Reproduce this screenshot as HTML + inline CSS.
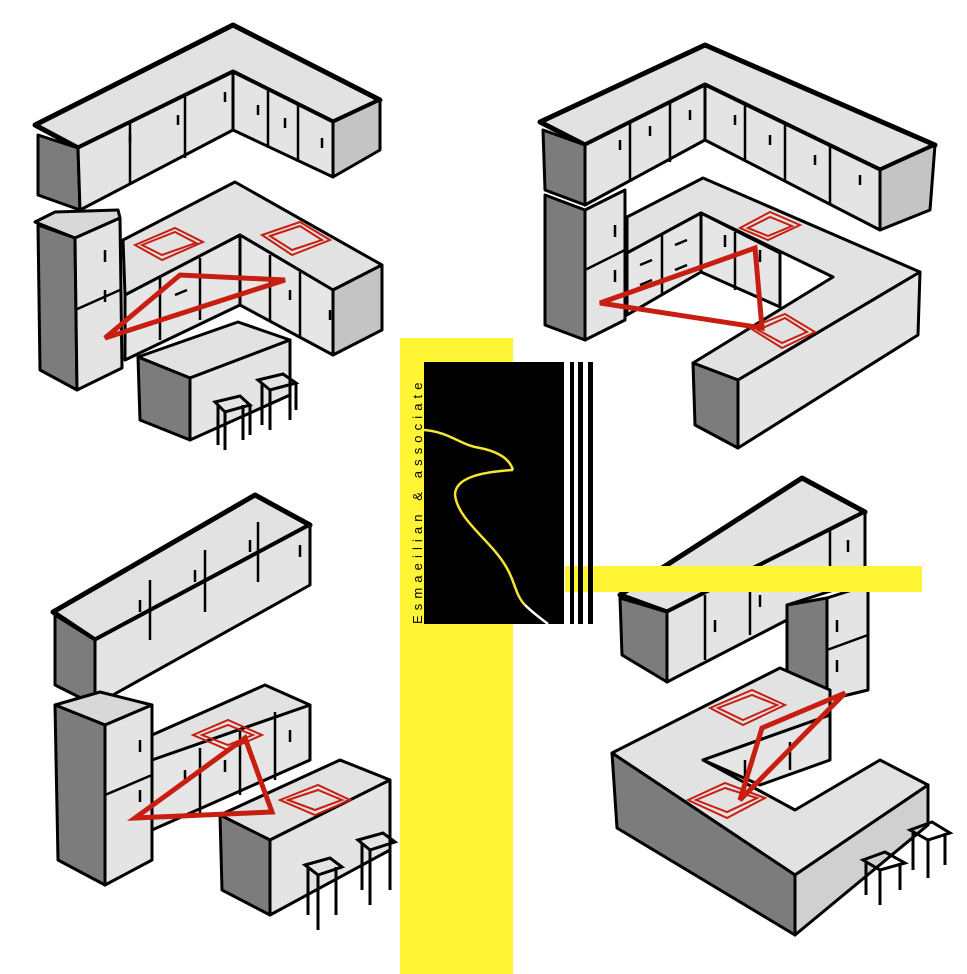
<!DOCTYPE html>
<html><head><meta charset="utf-8"><style>
html,body{margin:0;padding:0;background:#fff;}
svg{display:block}
</style></head><body>
<svg width="967" height="974" viewBox="0 0 967 974" xmlns="http://www.w3.org/2000/svg">
<g stroke="#000" stroke-width="3" stroke-linejoin="round">
<!-- TL upper -->
<polygon points="35,125 233,25 380,100 333,122 233,72 78,148" fill="#e2e2e2" stroke-width="5"/>
<polygon points="38,135 78,148 80,210 38,195" fill="#7c7c7c"/>
<polygon points="78,148 233,72 233,130 80,210" fill="#e4e4e4"/>
<polygon points="233,72 333,122 333,177 233,130" fill="#e4e4e4"/>
<polygon points="333,122 380,100 380,150 333,177" fill="#c4c4c4"/>
<!-- TL fridge -->
<polygon points="35,222 55,212 118,210 120,218 75,238" fill="#d8d8d8"/>
<polygon points="38,225 75,238 77,390 40,370" fill="#7c7c7c"/>
<polygon points="75,238 120,218 122,368 77,390" fill="#e4e4e4"/>
<!-- TL counter -->
<polygon points="123,240 235,182 382,265 333,290 240,235 125,295" fill="#e2e2e2"/>
<polygon points="125,295 240,235 240,305 125,360" fill="#e6e6e6"/>
<polygon points="240,235 333,290 333,355 240,305" fill="#e6e6e6"/>
<polygon points="333,290 382,265 382,330 333,355" fill="#c4c4c4"/>
<!-- TL island -->
<polygon points="138,357 238,322 290,340 190,378" fill="#e2e2e2"/>
<polygon points="138,357 190,378 190,440 140,420" fill="#7c7c7c"/>
<polygon points="190,378 290,340 290,395 190,440" fill="#e4e4e4"/>

<!-- TR upper -->
<polygon points="540,122 705,45 935,145 880,170 705,85 585,145" fill="#e2e2e2" stroke-width="5"/>
<polygon points="543,130 585,145 585,205 545,190" fill="#7c7c7c"/>
<polygon points="585,145 705,85 705,140 585,205" fill="#e4e4e4"/>
<polygon points="705,85 880,170 880,230 705,140" fill="#e4e4e4"/>
<polygon points="880,170 935,145 930,210 880,230" fill="#c4c4c4"/>
<!-- TR counter -->
<polygon points="627,217 703,178 920,272 738,380 693,363 833,277 701,213 627,253" fill="#e2e2e2"/>
<polygon points="627,253 701,213 701,272 627,315" fill="#e6e6e6"/>
<polygon points="701,213 780,253 780,307 701,272" fill="#e6e6e6"/>
<polygon points="693,363 738,380 738,448 695,425" fill="#7c7c7c"/>
<polygon points="738,380 920,272 918,335 738,448" fill="#e4e4e4"/>
<!-- TR fridge -->
<polygon points="545,195 585,210 585,340 545,325" fill="#7c7c7c"/>
<polygon points="585,210 625,190 625,320 585,340" fill="#e4e4e4"/>

<!-- BL upper -->
<polygon points="53,612 255,495 310,525 95,640" fill="#e2e2e2" stroke-width="5"/>
<polygon points="55,615 95,640 95,705 55,685" fill="#7c7c7c"/>
<polygon points="95,640 310,525 310,585 95,705" fill="#e4e4e4"/>
<!-- BL fridge -->
<polygon points="55,705 100,692 152,705 105,725" fill="#d8d8d8"/>
<polygon points="55,705 105,725 105,885 58,860" fill="#7c7c7c"/>
<polygon points="105,725 152,705 152,860 105,885" fill="#e4e4e4"/>
<!-- BL counter -->
<polygon points="152,735 265,685 310,705 200,760 152,760" fill="#e2e2e2"/>
<polygon points="152,760 310,705 310,760 152,830" fill="#e6e6e6"/>
<!-- BL island -->
<polygon points="220,815 340,760 390,780 270,840" fill="#e2e2e2"/>
<polygon points="220,815 270,840 270,915 222,890" fill="#7c7c7c"/>
<polygon points="270,840 390,780 390,850 270,915" fill="#e4e4e4"/>

<!-- BR upper -->
<polygon points="620,595 802,478 865,512 667,612" fill="#e2e2e2" stroke-width="5"/>
<polygon points="620,598 667,612 667,682 622,655" fill="#7c7c7c"/>
<polygon points="667,612 865,512 865,580 787,605 787,620 667,682" fill="#e4e4e4"/>
<!-- BR tall -->
<polygon points="787,605 827,598 827,700 787,715" fill="#7c7c7c"/>
<polygon points="827,598 868,585 868,690 827,700" fill="#e4e4e4"/>
<!-- BR counter -->
<polygon points="612,753 780,668 830,690 830,715 703,760 795,810 880,760 928,785 795,875" fill="#e2e2e2"/>
<polygon points="703,760 830,715 830,760 760,785" fill="#e6e6e6"/>
<polygon points="612,753 795,875 795,935 617,828" fill="#7c7c7c"/>
<polygon points="795,875 928,785 928,825 795,935" fill="#d0d0d0"/>
</g>
<!-- door dividers -->
<g stroke="#000" stroke-width="2.5" fill="none">
<path d="M130,122 V185 M185,96 V158 M268,90 V148 M298,105 V162"/>
<path d="M130,135 v8 M178,115 v10 M225,92 v10 M258,105 v10 M285,118 v10 M322,138 v10"/>
<path d="M75,310 L120,290 M105,250 v12 M105,290 v12"/>
<path d="M160,278 V340 M200,258 V320 M270,255 V320 M300,272 V338 M175,295 l12,-5 M290,290 v10 M330,310 v10"/>
<path d="M630,122 V180 M670,103 V162 M745,105 V160 M785,125 V180 M830,146 V205"/>
<path d="M620,140 v10 M650,126 v10 M690,110 v10 M735,115 v10 M770,135 v10 M815,155 v10 M860,175 v10"/>
<path d="M585,270 L625,250 M615,225 v12 M615,270 v12"/>
<path d="M662,233 V295 M640,265 l12,-5 M675,245 l12,-5 M640,285 l12,-5 M675,270 l12,-5 M735,232 V290 M725,235 v12 M760,250 v12"/>
<path d="M150,580 V640 M205,550 V612 M258,522 V582 M140,600 v12 M195,570 v12 M250,540 v12 M300,545 v12"/>
<path d="M105,795 L152,775 M140,740 v12 M140,790 v12"/>
<path d="M200,748 V815 M240,730 V795 M275,712 V780 M185,770 v12 M225,760 v12 M290,730 v12"/>
<path d="M705,595 V660 M750,572 V635 M830,530 V578 M715,620 v12 M760,595 v12 M848,540 v12"/>
<path d="M827,650 L868,635 M837,620 v12 M837,660 v12"/>
<path d="M745,760 V785 M790,742 V770"/>
</g>
<!-- stools -->
<g stroke="#000" stroke-width="3" fill="none">
<path d="M215,402 L240,396 L250,405 L225,412 Z M218,405 V445 M225,412 V450 M243,405 V440 M250,405 V435"/>
<path d="M258,380 L283,374 L296,383 L270,390 Z M262,383 V425 M270,390 V430 M290,383 V420 M296,383 V410"/>
<path d="M305,865 L330,858 L342,867 L318,875 Z M308,868 V915 M318,875 V930 M336,867 V915"/>
<path d="M358,840 L383,833 L395,842 L370,850 Z M362,843 V890 M370,850 V905 M390,842 V890"/>
<path d="M863,860 L885,852 L905,863 L880,870 Z M866,863 V895 M880,870 V905 M900,863 V890"/>
<path d="M910,830 L932,822 L950,833 L928,840 Z M913,833 V870 M928,840 V878 M945,833 V865"/>
</g>
<!-- red -->
<g stroke="#c81e12" fill="none">
<polygon points="105,338 180,275 285,280" stroke-width="5"/>
<polygon points="600,303 755,248 762,328" stroke-width="5"/>
<polygon points="135,818 245,738 272,812" stroke-width="5"/>
<polygon points="740,800 845,693 762,728" stroke-width="5"/>
<g stroke-width="2">
<polygon points="135,245 175,228 203,242 162,260"/><polygon points="142,245 175,232 196,243 162,255"/>
<polygon points="262,235 300,222 330,240 292,255"/><polygon points="270,236 300,226 322,240 292,250"/>
<polygon points="740,228 770,212 800,225 768,240"/><polygon points="748,228 770,217 792,226 768,236"/>
<polygon points="750,328 785,314 815,332 782,348"/><polygon points="758,330 785,318 807,332 782,343"/>
<polygon points="193,735 228,720 262,735 228,750"/><polygon points="202,735 228,725 253,735 228,745"/>
<polygon points="280,800 318,785 350,800 315,815"/><polygon points="288,800 318,790 342,800 315,810"/>
<polygon points="710,708 752,690 785,705 743,725"/><polygon points="718,708 752,695 777,705 743,720"/>
<polygon points="688,800 725,783 765,798 727,818"/><polygon points="696,800 725,788 757,798 727,812"/>
</g></g>
<!-- logo -->
<rect x="400" y="338" width="113" height="636" fill="#fff535"/>
<rect x="424" y="362" width="140" height="262" fill="#000"/>
<rect x="565" y="566" width="357" height="26" fill="#fff535"/>
<rect x="570" y="362" width="4" height="262" fill="#000"/>
<rect x="578" y="362" width="5" height="262" fill="#000"/>
<rect x="588" y="362" width="5" height="262" fill="#000"/>
<path d="M424,430 C450,432 460,445 480,448 C500,452 510,460 513,470" stroke="#f5e535" stroke-width="2.5" fill="none"/>
<path d="M513,470 C480,472 455,478 455,495 C458,520 490,540 505,565 C515,580 515,595 525,605" stroke="#f5e535" stroke-width="2.5" fill="none"/>
<path d="M525,605 C532,612 540,618 548,624" stroke="#fff" stroke-width="2.5" fill="none"/>
<text x="0" y="0" transform="translate(422,624) rotate(-90)" font-family="Liberation Sans, sans-serif" font-size="13" letter-spacing="5.1" fill="#000">Esmaeilian &amp; associate</text>
</svg>
</body></html>
